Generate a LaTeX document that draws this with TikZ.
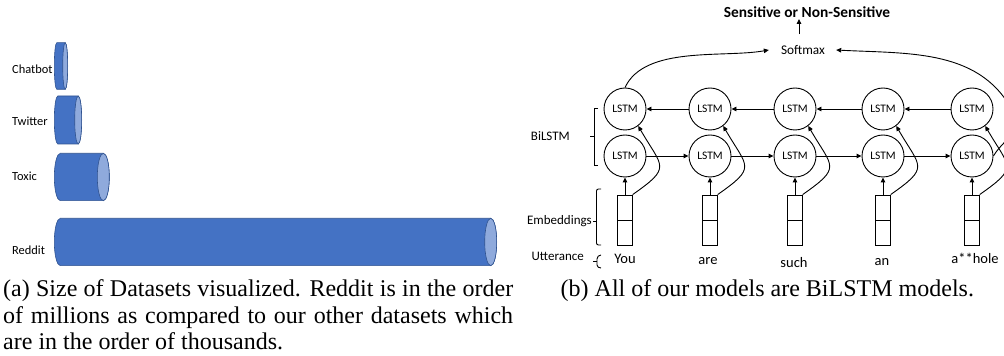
\documentclass[tikz,border=0pt]{standalone}
\usepackage{fontspec}
\setmainfont{Liberation Serif}
\newfontfamily\calib{Carlito}
\usetikzlibrary{arrows.meta}
\definecolor{barblue}{HTML}{4472C4}
\definecolor{barface}{HTML}{8FAADC}
\definecolor{baredge}{HTML}{2F528F}
\newcommand{\cylbar}[5]{%
  \fill[barblue,draw=baredge,line width=0.6pt] (#1+#5,#3+#4) -- (#2-#5,#3+#4)
    arc[start angle=90,end angle=-90,x radius=#5,y radius=#4] -- (#1+#5,#3-#4)
    arc[start angle=270,end angle=90,x radius=#5,y radius=#4] -- cycle;
  \filldraw[fill=barface,draw=baredge,line width=0.6pt] (#2-#5,#3) ellipse[x radius=#5,y radius=#4];
}
\begin{document}
\begin{tikzpicture}[x=1pt,y=1pt,
  lbl/.style={font=\calib\fontsize{12.4}{14}\selectfont, anchor=west, inner sep=0},
  lstm/.style={circle, draw, line width=0.9pt, minimum size=42pt, inner sep=0, font=\calib\fontsize{11.5}{13}\selectfont},
  emb/.style={draw, line width=0.9pt, minimum width=14.5pt, minimum height=50pt, inner sep=0},
  arr/.style={line width=0.9pt, -{Triangle[length=5pt,width=4.5pt]}},
  ln/.style={line width=0.9pt},
  side/.style={font=\calib\fontsize{13}{15}\selectfont, inner sep=0},
  word/.style={font=\calib\fontsize{14.5}{17}\selectfont, inner sep=0, anchor=base},
  captxt/.style={font=\fontsize{24}{26.7}\selectfont, inner sep=0, anchor=base west}
]
\path[use as bounding box] (0,0) rectangle (1004,356);
\clip (0,0) rectangle (1004,356);
% ---- (a) bars
\cylbar{54.3}{67.7}{290}{23.3}{2.5}
\cylbar{54.3}{81.7}{236}{24}{3.5}
\cylbar{54.3}{109.3}{179}{23.7}{6}
\cylbar{54.3}{496.7}{114}{23.7}{6}
\node[lbl] (lchat) at (12,286.7) {Chatbot};
\node[lbl] (ltwit) at (12,234.3) {Twitter};
\node[lbl] (ltox) at (12,180) {Toxic};
\node[lbl] (lred) at (12,106) {Reddit};
% ---- (b) model
\foreach \i/\x in {1/625,2/710,3/795,4/883,5/972}{
  \node[lstm] (t\i) at (\x,247) {LSTM};
  \node[lstm] (b\i) at (\x,200) {LSTM};
  \node[emb] (e\i) at (\x,136) {};
  \draw[ln] (e\i.west) -- (e\i.east);
  \draw[arr] (e\i.north) -- (b\i.south);
  \draw[arr] (e\i.north east) to[out=35,in=-60,looseness=1.8] (t\i.-52);
}
\foreach \i/\j in {1/2,2/3,3/4,4/5}{
  \draw[arr] (t\j.west) -- (t\i.east);
  \draw[arr] (b\i.east) -- (b\j.west);
}
\node[word] (w1) at (625,92.7) {You};
\node[word] (w2) at (708,91) {are};
\node[word] (w3) at (794,88.7) {such};
\node[word] (w4) at (882,90) {an};
\node[word] (w5) at (975,92.7) {a**hole};
\node[font=\calib\fontsize{13.3}{15}\selectfont, inner sep=0] (soft) at (803,306) {Softmax};
\node[font=\calib\bfseries\fontsize{15.4}{17}\selectfont, inner sep=0] (sens) at (807,343.7) {Sensitive or Non-Sensitive};
\draw[arr] ([xshift=-4pt,yshift=11pt]soft.north) -- ([xshift=-8pt,yshift=-1pt]sens.south);
\draw[arr] (t1.north) to[out=65,in=190,looseness=0.8] ([xshift=-12pt]soft.west);
\draw[arr] (b5.east) to[out=60,in=-70] (1015,240) to[out=115,in=-3] ([xshift=11pt]soft.east);
% brackets and side labels
\draw[ln] (598,248) -- (594,248) -- (594,191) -- (598,191);
\draw[ln] (594,219.5) -- (590,219.5);
\node[side, anchor=east] (lbil) at (570,220) {BiLSTM};
\draw[ln,rounded corners=2pt] (601,167) -- (596.5,167) -- (596.5,111) -- (601,111);
\draw[ln] (596.5,135) -- (593,135);
\node[side, anchor=east] (lemb) at (592,135) {Embeddings};
\draw[ln] (601,101) to[out=180,in=90] (597,97) -- (597,91) to[out=-90,in=180] (601,88);
\draw[ln] (597,95) -- (593,95);
\node[side, anchor=base east] (lutt) at (584,95) {Utterance};
% captions
\node[captxt] (capa1) at (3,59.3) {\makebox[510pt][s]{(a) Size of Datasets visualized. Reddit is in the order}};
\node[captxt] (capa2) at (3,32) {\makebox[510pt][s]{of millions as compared to our other datasets which}};
\node[captxt] (capa3) at (3,6) {are in the order of thousands.};
\node[captxt] (capb) at (560.5,59.3) {(b) All of our models are BiLSTM models.};
\end{tikzpicture}
\end{document}
